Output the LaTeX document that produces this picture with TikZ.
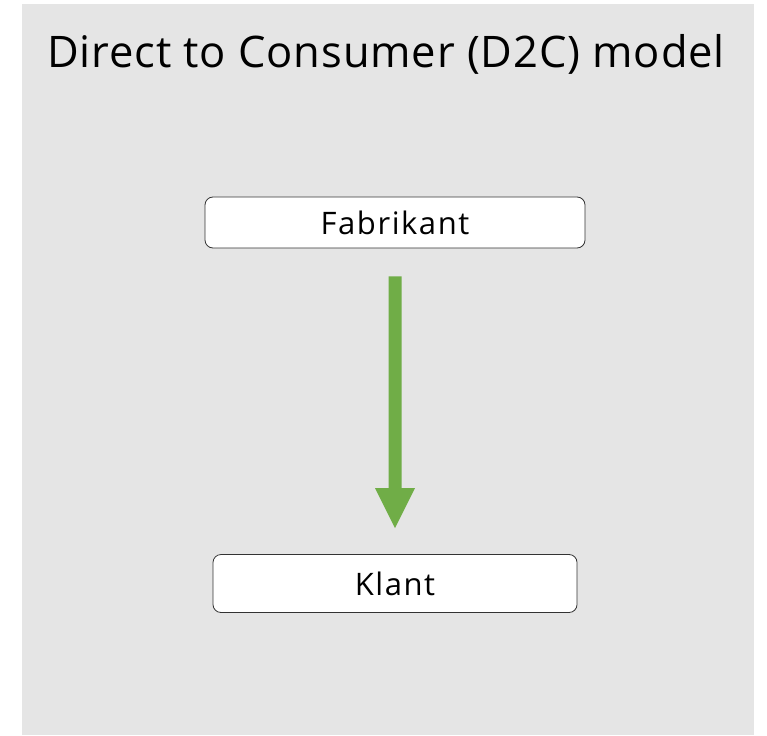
\documentclass[tikz,border=0pt]{standalone}
\usepackage{fontspec}
\setmainfont{Open Sans}
\newfontfamily\boxfont[LetterSpace=5]{Open Sans}
\newfontfamily\titlefont[LetterSpace=2]{Open Sans}
\usetikzlibrary{calc}
\definecolor{bggray}{HTML}{E5E5E5}
\definecolor{arrowgreen}{HTML}{70AD47}
\begin{document}
\begin{tikzpicture}[x=1pt,y=-1pt,
  box/.style={draw=black!80,fill=white,rounded corners=8pt,line width=0.8pt,inner sep=0pt},
  boxtext/.style={font=\boxfont\fontsize{31}{35}\selectfont},
  flowarrow/.style={draw=none,fill=arrowgreen}]
\useasboundingbox (0,0) rectangle (767,735);
\fill[bggray] (22,4) rectangle (754,735);
\node[font=\titlefont\fontsize{43.5}{50}\selectfont,anchor=center] (title) at (386,54) {Direct to Consumer (D2C) model};
\node[box,minimum width=380pt,minimum height=51pt] (fab) at (395,222.5) {};
\node[boxtext] (fabt) at (fab.center) {Fabrikant};
\node[box,minimum width=364pt,minimum height=58pt] (klant) at (395,583.5) {};
\node[boxtext] (klantt) at (klant.center) {Klant};
\coordinate (a0) at ($(fab.south)+(0,28)$);
\coordinate (a1) at ($(klant.north)+(0,-26)$);
\fill[flowarrow] ($(a0)+(-6.5,0)$) -- ($(a0)+(6.5,0)$) -- ($(a1)+(6.5,-40)$) -- ($(a1)+(20,-40)$) -- (a1) -- ($(a1)+(-20,-40)$) -- ($(a1)+(-6.5,-40)$) -- cycle;
\end{tikzpicture}
\end{document}
